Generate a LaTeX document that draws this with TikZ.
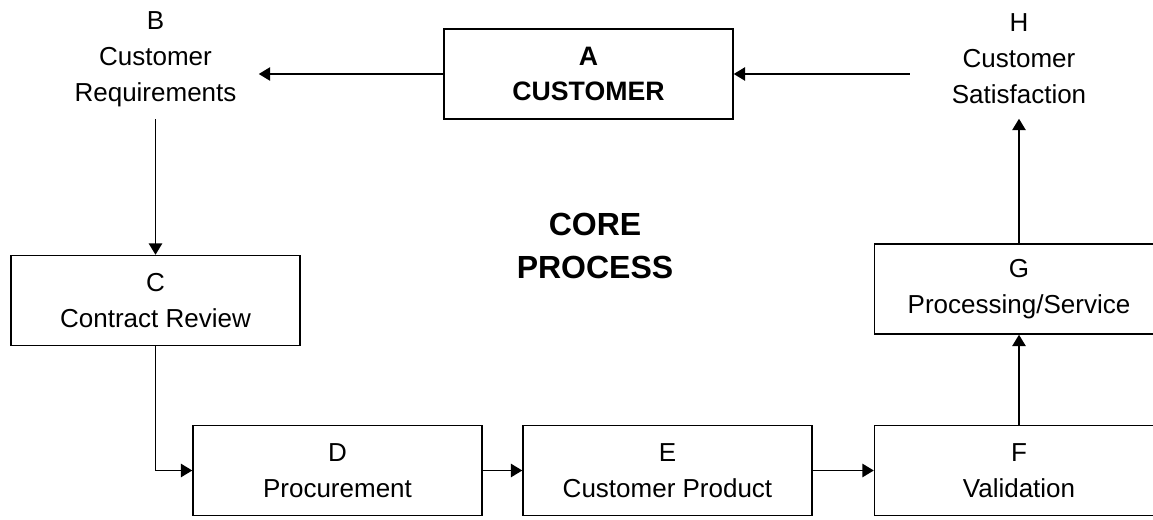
\documentclass[tikz,border=0pt]{standalone}
\usepackage{fontspec}
\setmainfont{Liberation Sans}
\usetikzlibrary{arrows.meta}

\tikzset{
  x=0.75pt, y=-0.75pt,
  stage/.style={draw, line width=1.1pt, minimum width=216.75pt, minimum height=67.5pt,
                align=center, inner sep=0pt, font=\fontsize{19.5}{27}\selectfont},
  label/.style={align=center, inner sep=0pt, minimum height=90pt,
                font=\fontsize{19.5}{27}\selectfont},
  flow/.style={line width=1.1pt, -{Triangle[length=8.5pt,width=10pt]}},
}

\begin{document}
\begin{tikzpicture}
  \useasboundingbox (0,0) rectangle (1153,520);
  \clip (0,0) rectangle (1153,520);

  % customer at the top, with the two outer steps of the loop
  \node[stage, font=\bfseries\fontsize{20}{26}\selectfont] (A) at (588.5,74) {A\\CUSTOMER};
  \node[label, minimum width=154.5pt] (B) at (155.5,59) {B\\Customer\\Requirements};
  \node[label, minimum width=163.5pt] (H) at (1019,58.5) {H\\Customer\\Satisfaction};

  % process stages
  \node[stage] (C) at (155.5,300.5) {C\\Contract Review};
  \node[stage] (D) at (337.5,470.5) {D\\Procurement};
  \node[stage] (E) at (667.5,470.5) {E\\Customer Product};
  \node[stage] (F) at (1019,470.5) {F\\Validation};
  \node[stage] (G) at (1019,289) {G\\Processing/Service};

  % centre caption
  \node[align=center, inner sep=0pt, font=\bfseries\fontsize{24}{32}\selectfont] (core)
    at (595,246) {CORE\\PROCESS};

  % connectors
  \draw[flow] (A.west) -- (A.west -| B.east);
  \draw[flow] (B.south) -- (C.north);
  \draw[flow] (C.south) |- (D.west);
  \draw[flow] (D.east) -- (E.west);
  \draw[flow] (E.east) -- (F.west);
  \draw[flow] (F.north) -- (G.south);
  \draw[flow] (G.north) -- (H.south);
  \draw[flow] (A.east -| H.west) -- (A.east);
\end{tikzpicture}
\end{document}
